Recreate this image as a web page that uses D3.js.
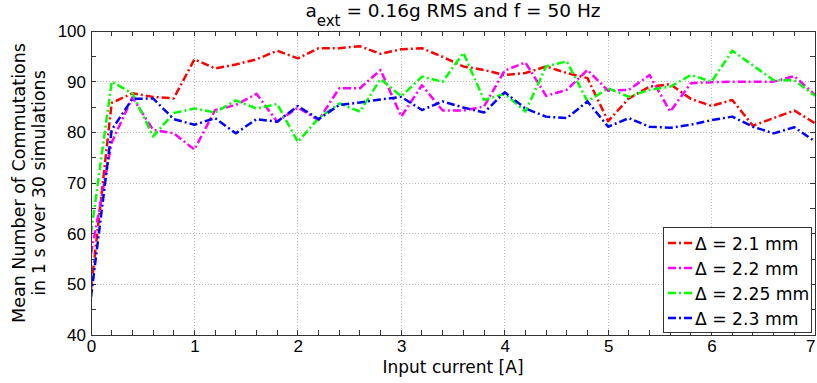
<!DOCTYPE html>
<html>
<head>
<meta charset="utf-8">
<script src="https://cdn.jsdelivr.net/npm/d3@7"></script>
<style>
  html, body { margin: 0; padding: 0; background: #fff; }
  svg { display: block; font-family: "Liberation Sans", Arial, sans-serif; }
</style>
</head>
<body>
<svg id="chart" width="817" height="383"></svg>
<script>
// Input current samples [A]
const current = [0, 0.2, 0.4, 0.6, 0.8, 1.0, 1.2, 1.4, 1.6, 1.8, 2.0, 2.2, 2.4, 2.6, 2.8, 3.0,
  3.2, 3.4, 3.6, 3.8, 4.0, 4.2, 4.4, 4.6, 4.8, 5.0, 5.2, 5.4, 5.6, 5.8, 6.0, 6.2, 6.4, 6.6, 6.8, 7.0];

// Mean number of commutations per gap Δ
const gap21 = [49, 85.8, 87.7, 87.0, 86.7, 94.4, 92.6, 93.4, 94.4, 96.1, 94.6, 96.6, 96.6, 97.0, 95.5, 96.4,
  96.6, 94.9, 93.0, 92.3, 91.3, 91.7, 93.0, 91.7, 90.7, 82.2, 86.7, 89.0, 89.5, 86.6, 85.2, 86.4, 81.3, 82.8, 84.3, 81.8];
const gap22 = [56, 78, 86.9, 80.5, 79.8, 76.6, 84.4, 85.4, 87.6, 82.1, 84.9, 82.4, 88.7, 88.7, 92.3, 83.1,
  89.3, 84.3, 84.3, 85.1, 92.2, 93.8, 87.2, 88.4, 92.3, 88.2, 88.4, 91.3, 84.1, 89.7, 89.9, 90, 90, 90, 91.1, 87.4];
const gap225 = [60, 90.0, 87.7, 79.2, 83.8, 84.7, 83.9, 86.3, 84.7, 85.6, 78.1, 82.8, 85.7, 84.1, 90.5, 87.1,
  91.0, 90.0, 95.7, 86.4, 87.6, 84.1, 93.0, 94.0, 86.1, 88.7, 87.0, 88.4, 89.0, 91.3, 90.0, 96.1, 93.2, 90.3, 90.3, 87.2];
const gap23 = [47.5, 80.5, 86.6, 86.7, 82.6, 81.5, 82.8, 79.8, 82.6, 82.1, 85.2, 82.6, 85.4, 85.9, 86.5, 87.0,
  84.4, 86.1, 84.9, 83.9, 87.9, 84.7, 83.1, 82.8, 86.1, 81.1, 82.8, 81.1, 80.9, 81.5, 82.4, 83.1, 81.1, 79.8, 81.0, 78.2];

const seriesNames = ["\u0394 = 2.1 mm", "\u0394 = 2.2 mm", "\u0394 = 2.25 mm", "\u0394 = 2.3 mm"];
const seriesColors = ["#ff0000", "#ff00ff", "#00ff00", "#0000ff"];
const seriesValues = [gap21, gap22, gap225, gap23];

const xTicks = [0, 1, 2, 3, 4, 5, 6, 7];
const yTicks = [40, 50, 60, 70, 80, 90, 100];

const wideFont = "DejaVu Sans, Verdana, sans-serif";
const tickFont = "Liberation Sans, Arial, sans-serif";

const svg = d3.select("#chart");
const m = { left: 91, right: 2, top: 31, bottom: 48 };
const W = 817, H = 383;

const x = d3.scaleLinear().domain([0, 7]).range([m.left, W - m.right]);
const y = d3.scaleLinear().domain([40, 100]).range([H - m.bottom, m.top]);

const x0 = x(0), x1 = x(7), y0 = y(40), y1 = y(100);

// dotted grid at major ticks
const grid = svg.append("g").attr("stroke", "#b8b8b8").attr("stroke-width", 1)
  .attr("stroke-dasharray", "1,2").attr("shape-rendering", "crispEdges");
xTicks.slice(1, -1).forEach(t => {
  grid.append("line").attr("x1", x(t)).attr("x2", x(t)).attr("y1", y0).attr("y2", y1);
});
yTicks.slice(1, -1).forEach(t => {
  grid.append("line").attr("x1", x0).attr("x2", x1).attr("y1", y(t)).attr("y2", y(t));
});

// inward ticks on all four sides
const tickLen = 5;
const ticks = svg.append("g").attr("stroke", "#333").attr("stroke-width", 1).attr("shape-rendering", "crispEdges");
d3.range(0, 7.0001, 0.2).forEach(t => {
  ticks.append("line").attr("x1", x(t)).attr("x2", x(t)).attr("y1", y0).attr("y2", y0 - tickLen);
  ticks.append("line").attr("x1", x(t)).attr("x2", x(t)).attr("y1", y1).attr("y2", y1 + tickLen);
});
d3.range(40, 100.001, 5).forEach(t => {
  ticks.append("line").attr("x1", x0).attr("x2", x0 + tickLen).attr("y1", y(t)).attr("y2", y(t));
  ticks.append("line").attr("x1", x1).attr("x2", x1 - tickLen).attr("y1", y(t)).attr("y2", y(t));
});

// axis tick labels
const xAxis = d3.axisBottom(x).tickValues(xTicks).tickSize(0).tickPadding(5).tickFormat(d3.format("d"));
const gx = svg.append("g").attr("transform", `translate(0,${y0})`).call(xAxis);
gx.select(".domain").remove();
gx.selectAll("text").attr("font-size", 17).attr("fill", "#000").attr("font-family", tickFont);
// last label sits at the window edge: keep it inside
gx.selectAll(".tick").filter(d => d === 7).select("text").attr("text-anchor", "end").attr("dx", 0);

const yAxis = d3.axisLeft(y).tickValues(yTicks).tickSize(0).tickPadding(5).tickFormat(d3.format("d"));
const gy = svg.append("g").attr("transform", `translate(${x0},0)`).call(yAxis);
gy.select(".domain").remove();
gy.selectAll("text").attr("font-size", 17).attr("fill", "#000").attr("font-family", tickFont);

// data lines
svg.append("clipPath").attr("id", "plotclip").append("rect")
  .attr("x", x0).attr("y", y1).attr("width", x1 - x0).attr("height", y0 - y1);
const line = d3.line().x((d, i) => x(current[i])).y(d => y(d));
const linesG = svg.append("g").attr("clip-path", "url(#plotclip)");
seriesValues.forEach((vals, k) => {
  linesG.append("path").datum(vals).attr("d", line)
    .attr("fill", "none").attr("stroke", seriesColors[k]).attr("stroke-width", 2.5)
    .attr("stroke-dasharray", "8,3,2,3").attr("stroke-linejoin", "round");
});

// axes box
svg.append("rect").attr("x", x0).attr("y", y1).attr("width", x1 - x0).attr("height", y0 - y1)
  .attr("fill", "none").attr("stroke", "#333").attr("stroke-width", 1).attr("shape-rendering", "crispEdges");

// title with subscript
const title = svg.append("text").attr("x", (x0 + x1) / 2).attr("y", 17)
  .attr("text-anchor", "middle").attr("font-size", 18.5).attr("fill", "#000").attr("font-family", wideFont);
title.append("tspan").text("a");
title.append("tspan").attr("font-size", 15).attr("dy", 9).text("ext");
title.append("tspan").attr("dy", -9).text(" = 0.16g RMS and f = 50 Hz");

// axis titles
svg.append("text").attr("x", (x0 + x1) / 2).attr("y", 373).attr("text-anchor", "middle")
  .attr("font-size", 17).attr("fill", "#000").attr("font-family", wideFont).text("Input current [A]");
const yl = svg.append("text").attr("transform", `translate(0,${(y0 + y1) / 2}) rotate(-90)`)
  .attr("text-anchor", "middle").attr("font-size", 17.5).attr("fill", "#000").attr("font-family", wideFont);
yl.append("tspan").attr("x", 0).attr("y", 25).text("Mean Number of Commutations");
yl.append("tspan").attr("x", 0).attr("y", 45).text("in 1 s over 30 simulations");

// legend
const lg = svg.append("g");
const lx = 663, ly = 227, lw = 148, lh = 105;
lg.append("rect").attr("x", lx).attr("y", ly).attr("width", lw).attr("height", lh)
  .attr("fill", "#fff").attr("stroke", "#333").attr("stroke-width", 1).attr("shape-rendering", "crispEdges");
seriesNames.forEach((name, k) => {
  const cy = ly + 16 + k * 25;
  lg.append("line").attr("x1", lx + 5).attr("x2", lx + 31).attr("y1", cy).attr("y2", cy)
    .attr("stroke", seriesColors[k]).attr("stroke-width", 2.5).attr("stroke-dasharray", "8,3,2,3");
  lg.append("text").attr("x", lx + 32).attr("y", cy + 6.5).attr("font-size", 17.2).attr("fill", "#000")
    .attr("font-family", wideFont).text(name);
});
</script>
</body>
</html>
